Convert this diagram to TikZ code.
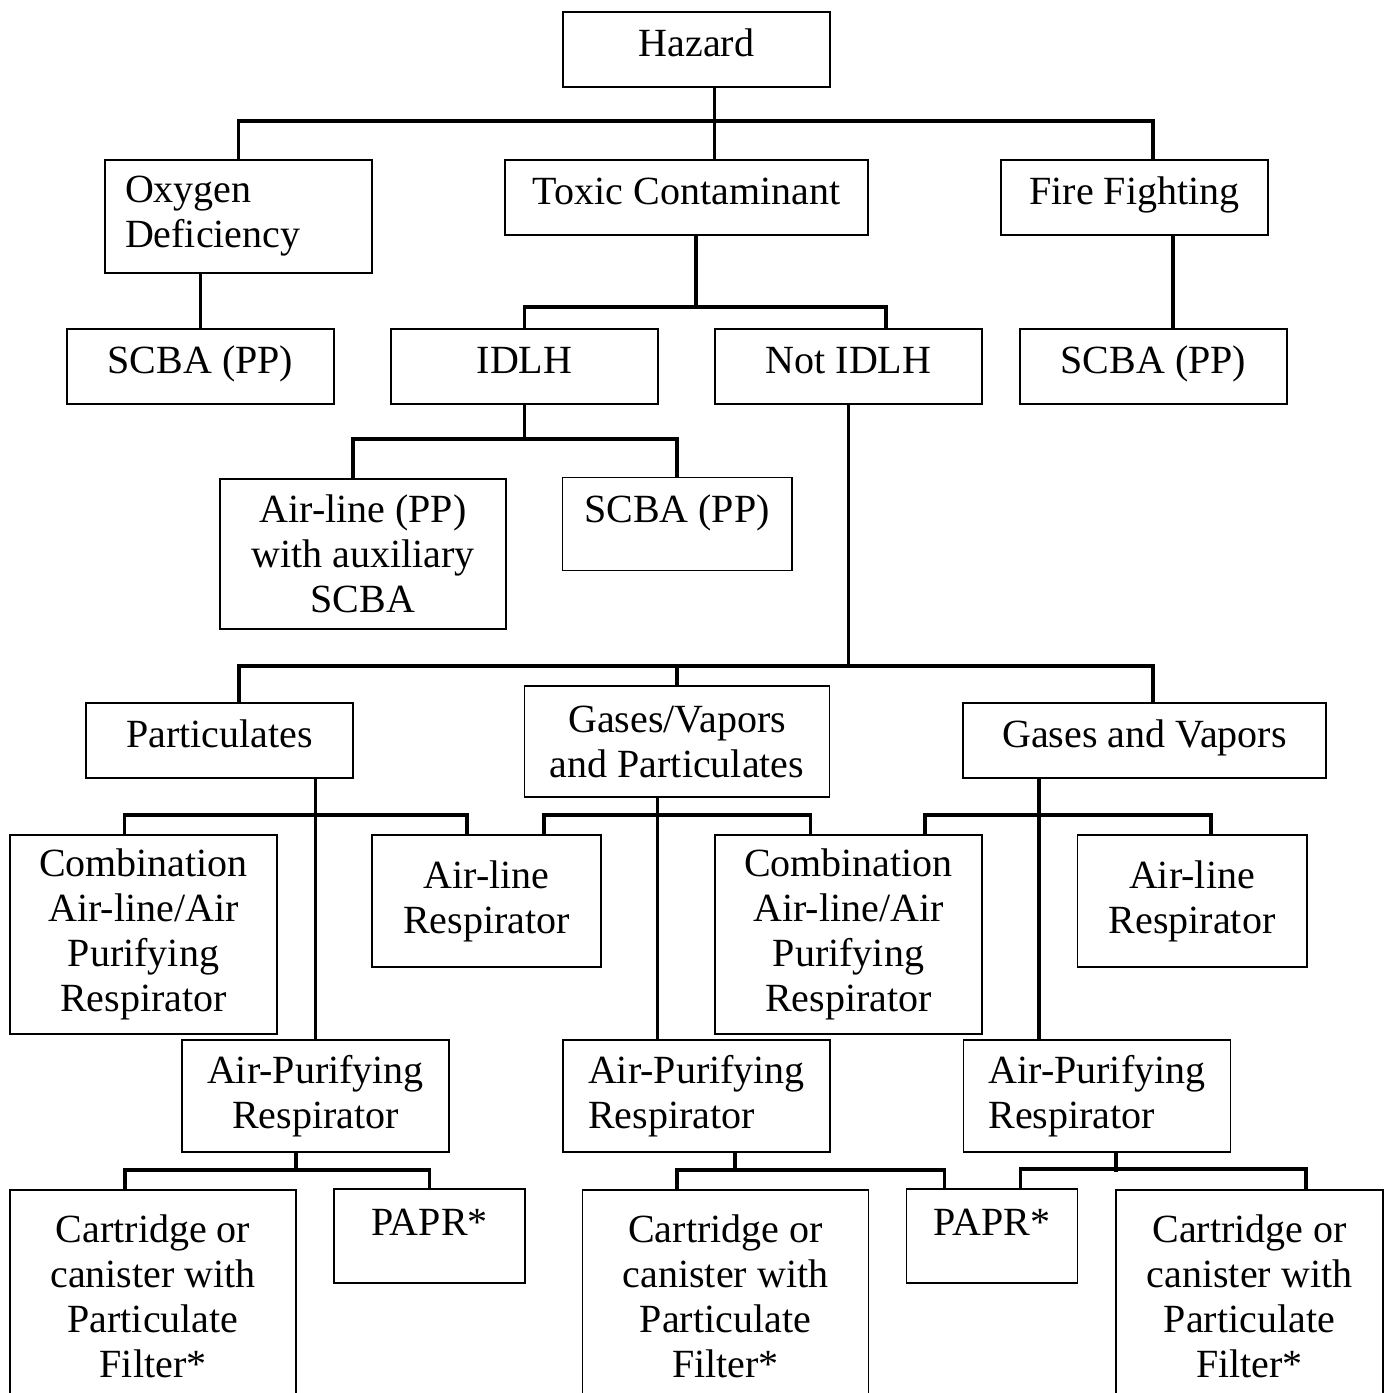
\documentclass[tikz,border=0pt]{standalone}
\usepackage{fontspec}
\setmainfont{Liberation Serif}
\tikzset{
box/.style={
draw,
line width=1.5pt,
inner sep=0pt,
align=center,
font=\fontsize{40}{45}\selectfont},
single/.style={text height=24pt, text depth=10pt},
link/.style={
draw,
line width=3.8pt}}

\begin{document}
\begin{tikzpicture}[x=1pt,y=-1pt]
\useasboundingbox (0,0) rectangle (1390,1393);
\clip (0,0) rectangle (1390,1393);
\node[box, single, minimum width=267pt, minimum height=75pt] (hazard) at (696.5,49.5) {Hazard};
\node[box, minimum width=267pt, minimum height=113pt, inner xsep=20pt, text width=227pt, align=left] (oxygen) at (238.5,216.5) {Oxygen\\Deficiency};
\node[box, single, minimum width=363pt, minimum height=75pt] (toxic) at (686.5,197.5) {Toxic Contaminant};
\node[box, single, minimum width=267pt, minimum height=75pt] (fire) at (1134.5,197.5) {Fire Fighting};
\node[box, single, minimum width=267pt, minimum height=75pt] (scbaO) at (200.5,366.5) {SCBA (PP)};
\node[box, single, minimum width=267pt, minimum height=75pt] (idlh) at (524.5,366.5) {IDLH};
\node[box, single, minimum width=267pt, minimum height=75pt] (notidlh) at (848.5,366.5) {Not IDLH};
\node[box, single, minimum width=267pt, minimum height=75pt] (scbaF) at (1153.5,366.5) {SCBA (PP)};
\node[box, minimum width=286pt, minimum height=150pt] (airpp) at (363,554) {Air-line (PP)\\with auxiliary\\SCBA};
\node[box, minimum width=229.5pt, text height=45pt, text depth=48pt] (scbaI) at (677,524) {SCBA (PP)};
\node[box, single, minimum width=267pt, minimum height=75pt] (part) at (219.5,740.5) {Particulates};
\node[box, minimum width=305pt, minimum height=111pt] (gvp) at (677,741.5) {Gases/Vapors\\and Particulates};
\node[box, single, minimum width=363pt, minimum height=75pt] (gv) at (1144.5,740.5) {Gases and Vapors};
\node[box, minimum width=267pt, minimum height=199pt] (combL) at (143.5,934.5) {Combination\\Air-line/Air\\Purifying\\Respirator};
\node[box, minimum width=229pt, minimum height=132pt] (airR1) at (486.5,901) {Air-line\\Respirator};
\node[box, minimum width=267pt, minimum height=199pt] (combM) at (848.5,934.5) {Combination\\Air-line/Air\\Purifying\\Respirator};
\node[box, minimum width=229.5pt, minimum height=132pt] (airR2) at (1192,901) {Air-line\\Respirator};
\node[box, minimum width=267pt, minimum height=112pt] (aprL) at (315.5,1096) {Air-Purifying\\Respirator};
\node[box, minimum width=267pt, minimum height=112pt, align=left] (aprM) at (696.5,1096) {Air-Purifying\\Respirator};
\node[box, minimum width=267pt, minimum height=112pt, align=left] (aprR) at (1097,1096) {Air-Purifying\\Respirator};
\node[box, minimum width=286pt, minimum height=212pt] (cartL) at (153,1296) {Cartridge or\\canister with\\Particulate\\Filter*};
\node[box, minimum width=191pt, text height=46pt, text depth=48pt] (paprL) at (429.5,1236) {PAPR*};
\node[box, minimum width=286pt, minimum height=212pt] (cartM) at (725.5,1296) {Cartridge or\\canister with\\Particulate\\Filter*};
\node[box, minimum width=171pt, text height=46pt, text depth=48pt] (paprM) at (992,1236) {PAPR*};
\node[box, minimum width=267pt, minimum height=212pt] (cartR) at (1249.5,1296) {Cartridge or\\canister with\\Particulate\\Filter*};
\draw[link] ([xshift=18pt]hazard.south) -- ([xshift=28pt]toxic.north);
\draw[link] (oxygen.north) -- ++(0,-38) -| ([xshift=18.5pt]fire.north);
\draw[link] (oxygen.south -| scbaO.north) -- (scbaO.north);
\draw[link] ([xshift=38.5pt]fire.south) -- ([xshift=19.5pt]scbaF.north);
\draw[link] ([xshift=9.5pt]toxic.south) -- ++(0,73);
\draw[link] (idlh.north) -- ++(0,-21) -| ([xshift=37.5pt]notidlh.north);
\draw[link] (idlh.south) -- ++(0,36);
\draw[link] ([xshift=-10.3pt]airpp.north) -- ++(0,-39) -| (scbaI.north);
\draw[link] (notidlh.south) -- ++(0,263);
\draw[link] ([xshift=19.5pt]part.north) -- ++(0,-36) -| ([xshift=8.5pt]gv.north);
\draw[link] (gvp.north) -- ++(0,-19);
\draw[link] (aprL.north) -- (aprL.north |- part.south);
\draw[link] ([xshift=-19pt]combL.north) -- ++(0,-19.5) -| ([xshift=-19.5pt]airR1.north);
\draw[link] ([xshift=-19.5pt]gvp.south) -- ([xshift=-39pt]aprM.north);
\draw[link] ([xshift=57.5pt]airR1.north) -- ++(0,-19.5) -| ([xshift=-38pt]combM.north);
\draw[link] ([xshift=-105.5pt]gv.south) -- ([xshift=-58pt]aprR.north);
\draw[link] ([xshift=76.5pt]combM.north) -- ++(0,-19.5) -| ([xshift=19pt]airR2.north);
\draw[link] ([xshift=-19.5pt]aprL.south) -- ++(0,19);
\draw[link] ([xshift=-28pt]cartL.north) -- ++(0,-19) -| (paprL.north);
\draw[link] ([xshift=38.5pt]aprM.south) -- ++(0,19);
\draw[link] ([xshift=-48.5pt]cartM.north) -- ++(0,-19) -| ([xshift=-47.5pt]paprM.north);
\draw[link] ([xshift=19pt]aprR.south) -- ++(0,19);
\draw[link] ([xshift=28.5pt]paprM.north) -- ++(0,-19) -| ([xshift=56.5pt]cartR.north);
\end{tikzpicture}
\end{document}
